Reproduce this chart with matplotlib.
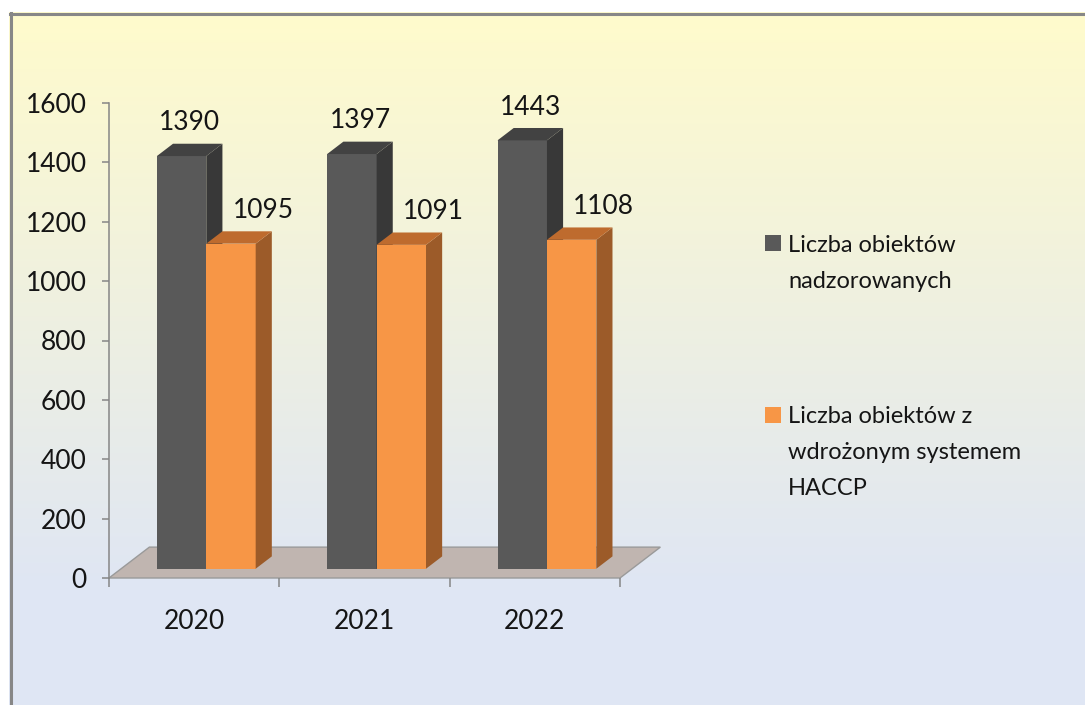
import matplotlib.pyplot as plt
from matplotlib.patches import Polygon, Rectangle
import numpy as np

plt.rcParams['font.family'] = ['Lato', 'DejaVu Sans']

# data
years = ['2020', '2021', '2022']
nadzorowane = [1390, 1397, 1443]
haccp = [1095, 1091, 1108]
series_names = ['Liczba obiektów\nnadzorowanych',
                'Liczba obiektów z\nwdrożonym systemem\nHACCP']
y_ticks = [0, 200, 400, 600, 800, 1000, 1200, 1400, 1600]

front_colors = ['#595959', '#F79646']
side_colors = ['#383838', '#9C5B29']
top_colors = ['#424242', '#BE6B2E']

W, H = 1085, 705
fig = plt.figure(figsize=(W / 100, H / 100), dpi=100)

# background with gradient and frame (pixel coordinates)
bg = fig.add_axes([0, 0, 1, 1])
bg.set_xlim(0, W)
bg.set_ylim(H, 0)
bg.axis('off')
top_c = np.array([255, 251, 204]) / 255
bot_c = np.array([223, 230, 244]) / 255
t = np.clip((np.arange(H) - 14) / (590 - 14), 0, 1)[:, None]
rows = top_c * (1 - t) + bot_c * t
img = np.repeat(rows[:, None, :], W, axis=1)
img[:12, :, :] = 1
img[:, :9, :] = 1
bg.imshow(img, extent=(0, W, H, 0), aspect='auto', interpolation='bilinear')
bg.plot([10.5, 10.5], [13, H], color='#878787', lw=2.2)
bg.plot([10, W], [13.5, 13.5], color='#878787', lw=2.2)

# main axes
ax = fig.add_axes([109 / W, 1 - 578 / H, (620 - 109) / W, (578 - 103) / H])
ax.set_xlim(-0.5, 2.5)
ax.set_ylim(0, 1600)
ax.patch.set_alpha(0)
for s in ['top', 'right', 'bottom']:
    ax.spines[s].set_visible(False)
ax.spines['left'].set_color('#868686')
ax.spines['left'].set_linewidth(1.1)

# floor depth (oblique projection)
fdx, fdy = 0.237, 104
floor = Polygon([(-0.5, 0), (2.5, 0), (2.5 + fdx, fdy), (-0.5 + fdx, fdy)],
                closed=True, fc='#C0B5B0', ec='#9A9A9A', lw=1, clip_on=False, zorder=1)
ax.add_patch(floor)

w = 0.29
b = 0.3 * fdy
ddx, ddy = 0.4 * fdx, 0.4 * fdy
x = np.arange(len(years))
for k, vals in enumerate([nadzorowane, haccp]):
    lefts = x + 0.3 * fdx - w + k * w
    ax.bar(lefts, vals, width=w, bottom=b, align='edge', color=front_colors[k],
           zorder=3 + k, clip_on=False)
    for x0, v in zip(lefts, vals):
        x1 = x0 + w
        side = Polygon([(x1, b), (x1 + ddx, b + ddy), (x1 + ddx, b + v + ddy), (x1, b + v)],
                       closed=True, fc=side_colors[k], ec='none', zorder=3 + k, clip_on=False)
        top = Polygon([(x0, b + v), (x1, b + v), (x1 + ddx, b + v + ddy), (x0 + ddx, b + v + ddy)],
                      closed=True, fc=top_colors[k], ec='none', zorder=3 + k, clip_on=False)
        ax.add_patch(side)
        ax.add_patch(top)
        ax.annotate(str(v), xy=(x0 + w / 2, b + v), xytext=(6 if k == 0 else 23, 24),
                    textcoords='offset points', ha='center', va='center',
                    fontsize=19, color='#151515', zorder=6)

# ticks
ax.set_yticks(y_ticks)
ax.tick_params(axis='y', direction='out', length=5, width=1.1, color='#868686',
               pad=11, labelsize=19, labelcolor='#151515')
ax.set_xticks(x)
ax.set_xticklabels(years)
ax.set_xticks([-0.5, 0.5, 1.5, 2.5], minor=True)
ax.tick_params(axis='x', which='major', length=0, pad=22, labelsize=19, labelcolor='#151515')
ax.tick_params(axis='x', which='minor', direction='out', length=6.5, width=1.1, color='#868686')

# legend
legend_rows = [(235, 252), (407, 423)]
for k, (sq_top, base) in enumerate(legend_rows):
    bg.add_patch(Rectangle((765, sq_top), 16, 16, fc=front_colors[k], ec='none'))
    for j, line in enumerate(series_names[k].split('\n')):
        bg.text(788, base + j * 36, line, fontsize=17, va='baseline', ha='left',
                color='#151515')

fig.savefig('out.png', dpi=100)
